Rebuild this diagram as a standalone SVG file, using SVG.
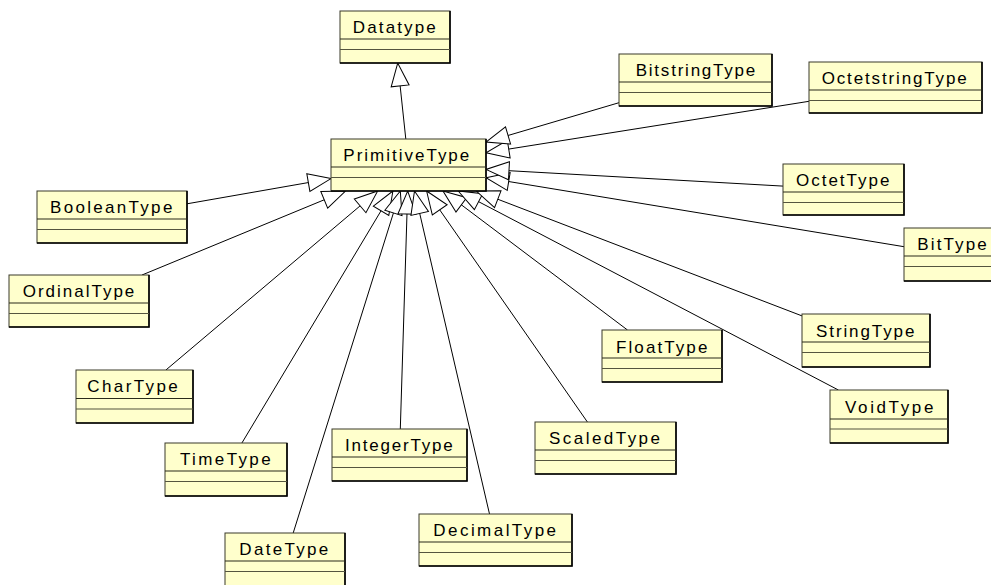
<svg xmlns="http://www.w3.org/2000/svg" width="991" height="585" viewBox="0 0 991 585">
<defs>
<style>
.box{fill:#FFFFCC;stroke:#3a3a2a;stroke-width:1}
.sh{fill:none;stroke:#000;stroke-width:1.6}
.d1{stroke:#2a2a1a;stroke-width:1.2}
.d2{stroke:#55553f;stroke-width:1.2}
.lbl{font-family:"Liberation Sans",Arial,sans-serif;font-size:17px;fill:#000;text-anchor:middle}
.gen{fill:none;stroke:#000;stroke-width:1;marker-end:url(#tri)}
</style>
<marker id="tri" markerUnits="userSpaceOnUse" viewBox="0 0 23 18" refX="23" refY="9" markerWidth="23" markerHeight="18" orient="auto" overflow="visible">
<path d="M0,0 L23,9 L0,18 Z" fill="#fff" stroke="#000" stroke-width="1"/>
</marker>
</defs>
<rect width="991" height="585" fill="#fff"/>
<g id="connectors">
<line class="gen" x1="187" y1="203.8" x2="331" y2="178.6"/>
<line class="gen" x1="142" y1="275" x2="345.5" y2="191"/>
<line class="gen" x1="165.9" y1="370" x2="377.7" y2="191"/>
<line class="gen" x1="241.9" y1="443" x2="392.9" y2="191"/>
<line class="gen" x1="293.2" y1="533" x2="400.3" y2="191"/>
<line class="gen" x1="400.3" y1="429" x2="407.7" y2="191"/>
<line class="gen" x1="489.5" y1="514" x2="414.5" y2="191"/>
<line class="gen" x1="587.4" y1="422" x2="426.6" y2="191"/>
<line class="gen" x1="627.5" y1="330" x2="443" y2="191"/>
<line class="gen" x1="838.4" y1="390" x2="458.2" y2="191"/>
<line class="gen" x1="802" y1="315.9" x2="476.3" y2="191"/>
<line class="gen" x1="904" y1="246.7" x2="486" y2="177.8"/>
<line class="gen" x1="783" y1="186.1" x2="486" y2="169.4"/>
<line class="gen" x1="809" y1="101.3" x2="486" y2="152.7"/>
<line class="gen" x1="619" y1="102.7" x2="486" y2="142"/>
<line class="gen" x1="405.8" y1="139" x2="397.7" y2="63"/>
</g>
<g id="datatype"><rect class="box" x="340" y="11" width="110" height="52"/><path class="sh" d="M450,11 V63 H340"/><line class="d1" x1="340" y1="39" x2="450" y2="39"/><line class="d2" x1="340" y1="49.5" x2="450" y2="49.5"/><text class="lbl" x="394.3" y="33" textLength="83" lengthAdjust="spacing">Datatype</text></g>
<g id="primitivetype"><rect class="box" x="331" y="139" width="155" height="52"/><path class="sh" d="M486,139 V191 H331"/><line class="d1" x1="331" y1="167" x2="486" y2="167"/><line class="d2" x1="331" y1="177.5" x2="486" y2="177.5"/><text class="lbl" x="406.3" y="161" textLength="126" lengthAdjust="spacing">PrimitiveType</text></g>
<g id="bitstringtype"><rect class="box" x="619" y="54" width="153" height="52"/><path class="sh" d="M772,54 V106 H619"/><line class="d1" x1="619" y1="82" x2="772" y2="82"/><line class="d2" x1="619" y1="92.5" x2="772" y2="92.5"/><text class="lbl" x="695.5" y="75.5" textLength="119.6" lengthAdjust="spacing">BitstringType</text></g>
<g id="octetstringtype"><rect class="box" x="809" y="62" width="173" height="51"/><path class="sh" d="M982,62 V113 H809"/><line class="d1" x1="809" y1="90" x2="982" y2="90"/><line class="d2" x1="809" y1="100.5" x2="982" y2="100.5"/><text class="lbl" x="894.2" y="83.5" textLength="145" lengthAdjust="spacing">OctetstringType</text></g>
<g id="octettype"><rect class="box" x="783" y="164" width="121" height="51"/><path class="sh" d="M904,164 V215 H783"/><line class="d1" x1="783" y1="192" x2="904" y2="192"/><line class="d2" x1="783" y1="202.5" x2="904" y2="202.5"/><text class="lbl" x="842.7" y="186" textLength="93.3" lengthAdjust="spacing">OctetType</text></g>
<g id="bittype"><rect class="box" x="904" y="228" width="95" height="53"/><path class="sh" d="M999,228 V281 H904"/><line class="d1" x1="904" y1="256" x2="999" y2="256"/><line class="d2" x1="904" y1="266.5" x2="999" y2="266.5"/><text class="lbl" x="952" y="250" textLength="69.4" lengthAdjust="spacing">BitType</text></g>
<g id="stringtype"><rect class="box" x="802" y="314" width="128" height="53"/><path class="sh" d="M930,314 V367 H802"/><line class="d1" x1="802" y1="342" x2="930" y2="342"/><line class="d2" x1="802" y1="352.5" x2="930" y2="352.5"/><text class="lbl" x="865.2" y="337" textLength="98.3" lengthAdjust="spacing">StringType</text></g>
<g id="voidtype"><rect class="box" x="830" y="390" width="118" height="53"/><path class="sh" d="M948,390 V443 H830"/><line class="d1" x1="830" y1="419" x2="948" y2="419"/><line class="d2" x1="830" y1="429" x2="948" y2="429"/><text class="lbl" x="889.2" y="412.5" textLength="88.3" lengthAdjust="spacing">VoidType</text></g>
<g id="floattype"><rect class="box" x="602" y="330" width="120" height="52"/><path class="sh" d="M722,330 V382 H602"/><line class="d1" x1="602" y1="358" x2="722" y2="358"/><line class="d2" x1="602" y1="368.5" x2="722" y2="368.5"/><text class="lbl" x="661.7" y="352.5" textLength="91.3" lengthAdjust="spacing">FloatType</text></g>
<g id="scaledtype"><rect class="box" x="535" y="422" width="141" height="52"/><path class="sh" d="M676,422 V474 H535"/><line class="d1" x1="535" y1="450" x2="676" y2="450"/><line class="d2" x1="535" y1="460.5" x2="676" y2="460.5"/><text class="lbl" x="604.5" y="444" textLength="111" lengthAdjust="spacing">ScaledType</text></g>
<g id="decimaltype"><rect class="box" x="419" y="514" width="153" height="52"/><path class="sh" d="M572,514 V566 H419"/><line class="d1" x1="419" y1="542" x2="572" y2="542"/><line class="d2" x1="419" y1="552.5" x2="572" y2="552.5"/><text class="lbl" x="494.7" y="536" textLength="122.7" lengthAdjust="spacing">DecimalType</text></g>
<g id="integertype"><rect class="box" x="332" y="429" width="135" height="52"/><path class="sh" d="M467,429 V481 H332"/><line class="d1" x1="332" y1="457" x2="467" y2="457"/><line class="d2" x1="332" y1="467.5" x2="467" y2="467.5"/><text class="lbl" x="398.8" y="451" textLength="107.7" lengthAdjust="spacing">IntegerType</text></g>
<g id="datetype"><rect class="box" x="225" y="533" width="120" height="54"/><path class="sh" d="M345,533 V587 H225"/><line class="d1" x1="225" y1="561" x2="345" y2="561"/><line class="d2" x1="225" y1="571.5" x2="345" y2="571.5"/><text class="lbl" x="283.8" y="555" textLength="89" lengthAdjust="spacing">DateType</text></g>
<g id="timetype"><rect class="box" x="165" y="443" width="122" height="53"/><path class="sh" d="M287,443 V496 H165"/><line class="d1" x1="165" y1="471" x2="287" y2="471"/><line class="d2" x1="165" y1="481.5" x2="287" y2="481.5"/><text class="lbl" x="225.3" y="465" textLength="90.7" lengthAdjust="spacing">TimeType</text></g>
<g id="chartype"><rect class="box" x="76" y="370" width="117" height="53"/><path class="sh" d="M193,370 V423 H76"/><line class="d1" x1="76" y1="398.5" x2="193" y2="398.5"/><line class="d2" x1="76" y1="409" x2="193" y2="409"/><text class="lbl" x="132.5" y="392" textLength="90.4" lengthAdjust="spacing">CharType</text></g>
<g id="ordinaltype"><rect class="box" x="9" y="275" width="140" height="52"/><path class="sh" d="M149,275 V327 H9"/><line class="d1" x1="9" y1="303" x2="149" y2="303"/><line class="d2" x1="9" y1="313.5" x2="149" y2="313.5"/><text class="lbl" x="78.5" y="297" textLength="111.6" lengthAdjust="spacing">OrdinalType</text></g>
<g id="booleantype"><rect class="box" x="37" y="191" width="150" height="52"/><path class="sh" d="M187,191 V243 H37"/><line class="d1" x1="37" y1="219" x2="187" y2="219"/><line class="d2" x1="37" y1="229.5" x2="187" y2="229.5"/><text class="lbl" x="111.2" y="213" textLength="122.3" lengthAdjust="spacing">BooleanType</text></g>
</svg>
